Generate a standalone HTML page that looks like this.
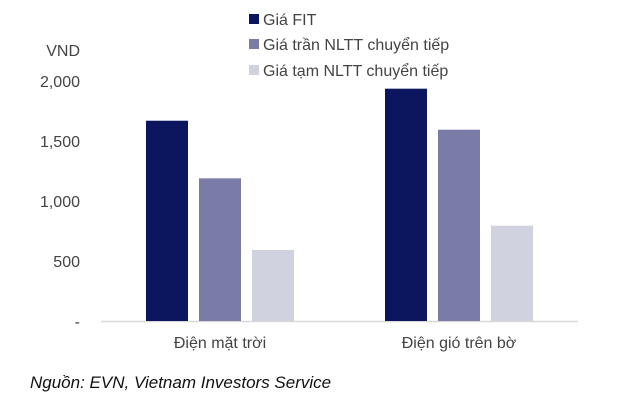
<!DOCTYPE html>
<html><head><meta charset="utf-8"><style>
body{margin:0;background:#fff;}
svg text{font-family:"Liberation Sans",sans-serif;}
</style></head><body>
<svg width="628" height="402" xmlns="http://www.w3.org/2000/svg">
<g id="g"></g>
</svg>
<script>
const categories=["Điện mặt trời","Điện gió trên bờ"];
const seriesNames=["Giá FIT","Giá trần NLTT chuyển tiếp","Giá tạm NLTT chuyển tiếp"];
const fitValues=[1669,1936];
const tranValues=[1189,1594];
const tamValues=[592,794];
const tickValues=[0,500,1000,1500,2000];
const tickLabels=["-","500","1,000","1,500","2,000"];
const colors=["#0c165e","#7a7ba6","#d0d2e0"];
const NS="http://www.w3.org/2000/svg";
const g=document.getElementById('g');
function y(v){return 321-v*0.12;}
function mk(t,a,txt){const e=document.createElementNS(NS,t);for(const k in a)e.setAttribute(k,a[k]);if(txt!=null)e.textContent=txt;g.appendChild(e);return e;}
const groupX=[146,385];
const series=[fitValues,tranValues,tamValues];
// axis line
let ax=mk('line',{x1:101,x2:578,y1:321.5,y2:321.5,stroke:'#d9d9d9','stroke-width':1.5});


tickValues.forEach((v,i)=>{
  const t=mk('text',{x:80,y:y(v)+6,'text-anchor':'end','font-size':16,fill:'#444'},tickLabels[i]);
  
  
});
let u=mk('text',{x:80,y:56,'text-anchor':'end','font-size':16,fill:'#444'},'VND');


categories.forEach((c,ci)=>{
  series.forEach((s,si)=>{
    const x=groupX[ci]+si*53;
    const r=mk('rect',{x:x,y:y(s[ci]),width:42,height:321-y(s[ci]),fill:colors[si]});
    
    
  });
  const t=mk('text',{x:groupX[ci]+74,y:348,'text-anchor':'middle','font-size':16,fill:'#444'},c);
  
  
});
const legY=[19,44,70];
seriesNames.forEach((n,i)=>{
  const r=mk('rect',{x:249,y:legY[i]-5,width:10,height:10,fill:colors[i]});
  
  
  const t=mk('text',{x:263,y:legY[i]+6,'font-size':16,fill:'#444'},n);
  
  
});
let s=mk('text',{x:30,y:388,'font-size':17,'font-style':'italic',fill:'#111'},'Nguồn: EVN, Vietnam Investors Service');


</script>
</body></html>
